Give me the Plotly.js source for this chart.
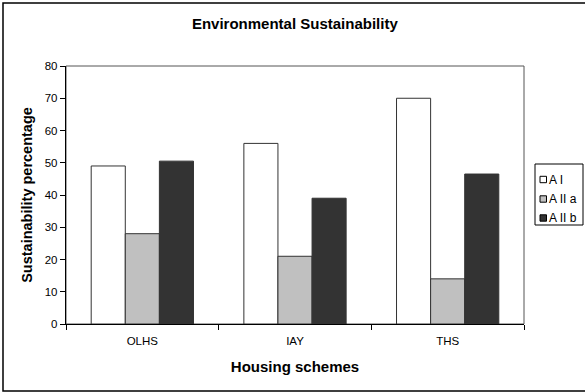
<!DOCTYPE html>
<html>
<head>
<meta charset="utf-8">
<script src="https://cdn.plot.ly/plotly-3.0.1.min.js"></script>
<style>
  html, body { margin: 0; padding: 0; background: #fff; }
  #chart { width: 585px; height: 392px; }
</style>
</head>
<body>
<div id="chart"></div>
<script>
// Housing schemes on the x axis, one bar per sustainability class
const schemes = ["OLHS", "IAY", "THS"];
const seriesNames = ["A I", "A II a", "A II b"];
const valuesAI = [49, 56, 70];
const valuesAIIa = [28, 21, 14];
const valuesAIIb = [50.5, 39, 46.5];
const seriesColors = ["#ffffff", "#c0c0c0", "#333333"];
const yTicks = [0, 10, 20, 30, 40, 50, 60, 70, 80];

const W = 585, H = 392;
const M = { l: 66, r: 61, t: 66, b: 68 };
const plotW = W - M.l - M.r;
const plotH = H - M.t - M.b;
// pixel position -> paper fraction
const px = x => (x - M.l) / plotW;
const py = y => (H - M.b - y) / plotH;

const font = "'Liberation Sans', Arial, sans-serif";
const seriesValues = [valuesAI, valuesAIIa, valuesAIIb];

const traces = seriesNames.map((name, i) => ({
  type: "bar",
  name: name,
  x: schemes,
  y: seriesValues[i],
  marker: { color: seriesColors[i], line: { color: "#333333", width: 1 } },
  hoverinfo: "x+y+name"
}));

// Hand-drawn legend box to the right of the plot
const shapes = [
  // outer chart frame
  { type: "rect", xref: "paper", yref: "paper", x0: px(3), x1: px(590), y0: py(391), y1: py(3),
    line: { color: "#000", width: 1.5 }, fillcolor: "rgba(0,0,0,0)" },
  // plot area frame
  { type: "rect", xref: "paper", yref: "paper", x0: 0, x1: 1, y0: 0, y1: 1,
    line: { color: "#555", width: 1 }, layer: "below" },
  // legend frame
  { type: "rect", xref: "paper", yref: "paper", x0: px(535), x1: px(583), y0: py(225), y1: py(164),
    line: { color: "#000", width: 1 }, fillcolor: "#fff" }
];
const legendRows = [179.5, 199, 218];
const annotations = [];
seriesNames.forEach((name, i) => {
  const cy = legendRows[i];
  shapes.push({ type: "rect", xref: "paper", yref: "paper",
    x0: px(540), x1: px(546.5), y0: py(cy + 3.2), y1: py(cy - 3.2),
    line: { color: "#000", width: 1 }, fillcolor: seriesColors[i] });
  annotations.push({ xref: "paper", yref: "paper", x: px(547), y: py(cy),
    xanchor: "left", yanchor: "middle", showarrow: false, text: name,
    font: { family: font, size: 12, color: "#000" } });
});

const layout = {
  width: W, height: H,
  margin: M,
  paper_bgcolor: "#fff",
  plot_bgcolor: "#fff",
  showlegend: false,
  barmode: "group",
  bargap: 0.33,
  bargroupgap: 0,
  font: { family: font, color: "#000", size: 11.5 },
  title: {
    text: "Environmental Sustainability",
    font: { family: font, size: 15, weight: "bold", color: "#000" },
    x: 0.504, xanchor: "center", y: 1 - 24 / H, yanchor: "middle"
  },
  xaxis: {
    title: { text: "Housing schemes", font: { family: font, size: 15, weight: "bold" }, standoff: 15 },
    showline: true, linecolor: "#000", linewidth: 1.2,
    ticks: "outside", ticklen: 5, tickcolor: "#000", tickson: "boundaries",
    ticklabelstandoff: 6,
    showgrid: false, zeroline: false,
    tickfont: { family: font, size: 11.5, color: "#000" }
  },
  yaxis: {
    title: { text: "Sustainability percentage", font: { family: font, size: 14.5, weight: "bold" }, standoff: 8 },
    range: [0, 80], tickvals: yTicks, ticktext: yTicks.map(String),
    showline: true, linecolor: "#000", linewidth: 1.2,
    ticks: "outside", ticklen: 5, tickcolor: "#000",
    showgrid: false, zeroline: false,
    tickfont: { family: font, size: 11.5, color: "#000" }
  },
  shapes: shapes,
  annotations: annotations
};

Plotly.newPlot("chart", traces, layout, { displayModeBar: false, staticPlot: true });
</script>
</body>
</html>
